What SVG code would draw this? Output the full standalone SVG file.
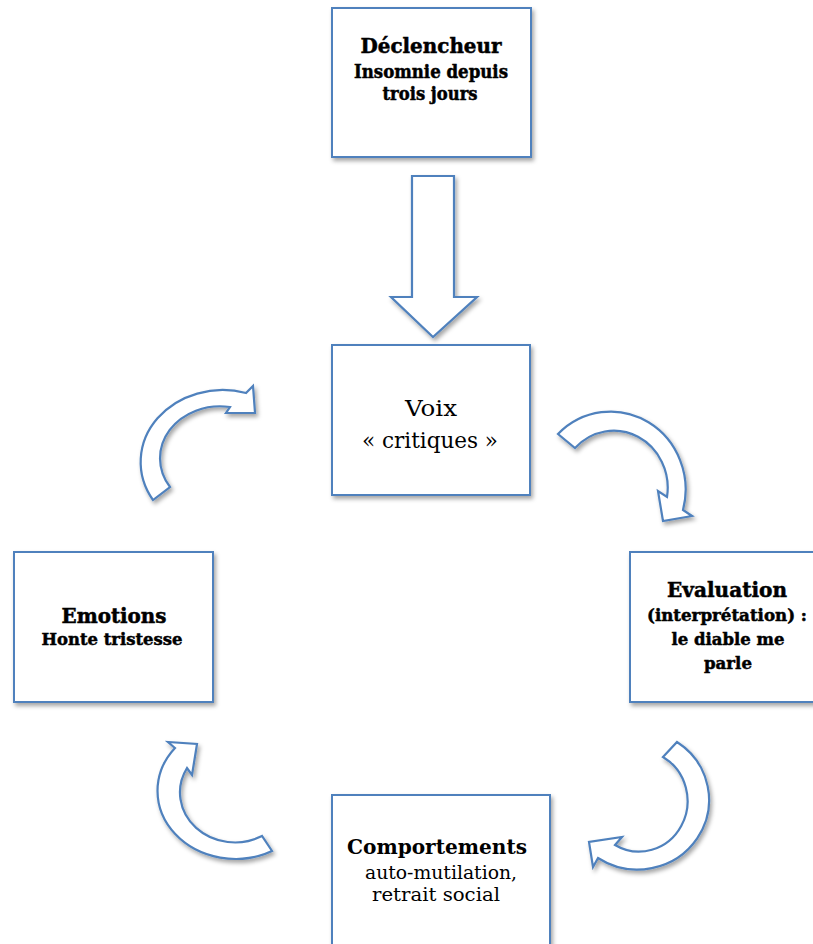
<svg xmlns="http://www.w3.org/2000/svg" width="813" height="944" viewBox="0 0 813 944">
<defs>
<filter id="sh" x="-20%" y="-20%" width="140%" height="140%">
<feDropShadow dx="2" dy="3" stdDeviation="2" flood-color="#000" flood-opacity="0.35"/>
</filter>
<style>
.box{fill:#fff;stroke:#4f81bd;stroke-width:2;filter:url(#sh)}
.arr{fill:#fff;stroke:#4f81bd;stroke-width:2.2;stroke-linejoin:miter;filter:url(#sh)}
text{font-family:"DejaVu Serif","Liberation Serif",serif;fill:#000;text-anchor:middle}
.b{font-weight:bold}
.h{font-weight:bold;stroke:#000;stroke-width:0.5}
</style>
</defs>
<rect width="813" height="944" fill="#fff"/>
<g id="connectors">
<polygon class="arr" points="412,176 454,176 454,297 477,297 433,337 391,297 412,297"/>
<path class="arr" d="M153,500 A82 72 0 0 1 246,393 L253,386 L255,413 L226,413 L230,407 A60 52 0 0 0 170,487 Z"/>
<path class="arr" d="M558,434 A75 78 0 0 1 683,510 L692,516 L663,521 L658,491 L667,497 A54 57 0 0 0 575,448 Z"/>
<path class="arr" d="M677,742 A70 68 0 0 1 598,858 L593,867 L589,842 L622,837 L615,845 A48 50 0 0 0 663,757 Z"/>
<path class="arr" d="M272,851 A78 68 0 0 1 175,748 L168,742 L197,744 L192,775 L187,768 A55 50 0 0 0 262,836 Z"/>
</g>
<g id="declencheur">
<rect class="box" x="332" y="8" width="199" height="149"/>
<text class="h" x="431" y="53" font-size="21" textLength="141" lengthAdjust="spacingAndGlyphs">Déclencheur</text>
<text class="h" x="431" y="78" font-size="18" textLength="154" lengthAdjust="spacingAndGlyphs">Insomnie depuis</text>
<text class="h" x="430" y="100" font-size="18" textLength="95" lengthAdjust="spacingAndGlyphs">trois jours</text>
</g>
<g id="voix">
<rect class="box" x="332" y="345" width="198" height="150"/>
<text x="431" y="416" font-size="23" textLength="52" lengthAdjust="spacingAndGlyphs">Voix</text>
<text x="430" y="448" font-size="23" textLength="136" lengthAdjust="spacingAndGlyphs">« critiques »</text>
</g>
<g id="emotions">
<rect class="box" x="14" y="552" width="199" height="150"/>
<text class="h" x="114" y="623" font-size="20" textLength="105" lengthAdjust="spacingAndGlyphs">Emotions</text>
<text class="h" x="112" y="645" font-size="17" textLength="141" lengthAdjust="spacingAndGlyphs">Honte tristesse</text>
</g>
<g id="evaluation">
<rect class="box" x="630" y="552" width="199" height="150"/>
<text class="h" x="727" y="597" font-size="20" textLength="120" lengthAdjust="spacingAndGlyphs">Evaluation</text>
<text class="h" x="727" y="621" font-size="17" textLength="160" lengthAdjust="spacingAndGlyphs">(interprétation) :</text>
<text class="h" x="728" y="645" font-size="17" textLength="113" lengthAdjust="spacingAndGlyphs">le diable me</text>
<text class="h" x="728" y="669" font-size="17" textLength="48" lengthAdjust="spacingAndGlyphs">parle</text>
</g>
<g id="comportements">
<rect class="box" x="332" y="795" width="218" height="160"/>
<text class="b" x="437" y="854" font-size="20" textLength="180" lengthAdjust="spacingAndGlyphs">Comportements</text>
<text x="441" y="879" font-size="18" textLength="152" lengthAdjust="spacingAndGlyphs">auto-mutilation,</text>
<text x="436" y="901" font-size="18" textLength="128" lengthAdjust="spacingAndGlyphs">retrait social</text>
</g>
</svg>
